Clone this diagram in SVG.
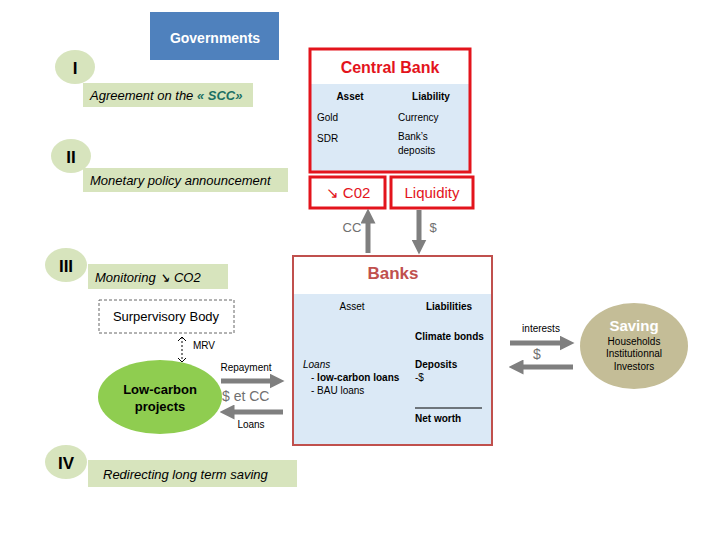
<svg xmlns="http://www.w3.org/2000/svg" width="720" height="540" viewBox="0 0 720 540">
<style>
text{font-family:"Liberation Sans",Arial,sans-serif;fill:#000}
.step{fill:#d7e4bd}
.num{font-size:17px;font-weight:bold;text-anchor:middle}
.lbl{font-size:13px;font-style:italic}
.red{fill:#e3141c}
.cbfr{fill:none;stroke:#e3141c;stroke-width:3}
.sm{font-size:10px}
.b{font-weight:bold}
.mid{text-anchor:middle}
.gl{stroke:#7f7f7f;stroke-width:5;fill:none}
.gt{fill:#707070}
</style>
<defs>
<marker id="ah" markerWidth="3" markerHeight="3" refX="1.5" refY="1.5" orient="auto" markerUnits="strokeWidth">
<path d="M0,0 L3,1.5 L0,3 z" fill="#7f7f7f"/>
</marker>
<marker id="ms" markerWidth="8" markerHeight="10" refX="5" refY="4" orient="auto-start-reverse" markerUnits="userSpaceOnUse">
<path d="M1,0 L5,4 L1,8" fill="none" stroke="#000" stroke-width="1"/>
</marker>
</defs>

<g id="governments">
<rect x="150" y="12" width="129" height="48" fill="#4f81bd"/>
<text x="215" y="43" class="mid b" font-size="14" style="fill:#fff">Governments</text>
</g>

<g id="step1">
<ellipse cx="75" cy="67" rx="20" ry="17" class="step"/>
<text x="75" y="74" class="num">I</text>
<rect x="83" y="83" width="170" height="24" class="step"/>
<text x="90" y="100" class="lbl">Agreement on the <tspan style="fill:#1b6f63;font-weight:bold">« SCC»</tspan></text>
</g>

<g id="step2">
<ellipse cx="71" cy="156" rx="20" ry="17" class="step"/>
<text x="71" y="163" class="num">II</text>
<rect x="83" y="168" width="205" height="24" class="step"/>
<text x="90" y="185" class="lbl">Monetary policy announcement</text>
</g>

<g id="step3">
<ellipse cx="66" cy="265" rx="21" ry="17" class="step"/>
<text x="66" y="272" class="num">III</text>
<rect x="88" y="264" width="140" height="25" class="step"/>
<text x="95" y="282" class="lbl">Monitoring ↘ CO2</text>
</g>

<g id="step4">
<ellipse cx="66" cy="462" rx="21" ry="17" class="step"/>
<text x="66" y="469" class="num">IV</text>
<rect x="88" y="460" width="209" height="27" class="step"/>
<text x="103" y="479" class="lbl">Redirecting long term saving</text>
</g>

<g id="central-bank">
<rect x="310" y="49" width="160" height="123" fill="#fff"/>
<rect x="311" y="84" width="158" height="87" fill="#dbe9f6"/>
<rect x="310" y="49" width="160" height="123" class="cbfr"/>
<text x="390" y="73" class="mid b red" font-size="16">Central Bank</text>
<text x="350" y="100" class="mid b sm">Asset</text>
<text x="431" y="100" class="mid b sm">Liability</text>
<text x="317" y="121" class="sm">Gold</text>
<text x="398" y="121" class="sm">Currency</text>
<text x="317" y="142" class="sm">SDR</text>
<text x="398" y="140" class="sm">Bank’s</text>
<text x="398" y="154" class="sm">deposits</text>
</g>

<g id="co2-box">
<rect x="310" y="177" width="75" height="31" fill="#fff" class="cbfr"/>
<text x="348" y="198" class="mid red" font-size="15">↘ C02</text>
</g>

<g id="liquidity-box">
<rect x="391" y="177" width="82" height="31" fill="#fff" class="cbfr"/>
<text x="432" y="198" class="mid red" font-size="15">Liquidity</text>
</g>

<g id="banks">
<rect x="293" y="256" width="199" height="189" fill="#fff"/>
<rect x="294" y="294" width="197" height="150" fill="#dbe9f6"/>
<rect x="293" y="256" width="199" height="189" fill="none" stroke="#c0504d" stroke-width="2"/>
<text x="393" y="279" class="mid b" font-size="17" style="fill:#c0504d">Banks</text>
<text x="352" y="310" class="mid sm">Asset</text>
<text x="449" y="310" class="mid b sm">Liabilities</text>
<text x="415" y="340" class="b sm">Climate bonds</text>
<text x="303" y="368" class="sm" font-style="italic">Loans</text>
<text x="311" y="381" class="sm"><tspan>- </tspan><tspan class="b">low-carbon loans</tspan></text>
<text x="311" y="394" class="sm">- BAU loans</text>
<text x="415" y="368" class="b sm">Deposits</text>
<text x="415" y="381" class="sm">-$</text>
<line x1="415" y1="408" x2="482" y2="408" stroke="#000" stroke-width="1"/>
<text x="415" y="422" class="b sm">Net worth</text>
</g>

<g id="saving">
<ellipse cx="634" cy="346" rx="54" ry="43" fill="#c4bd97"/>
<text x="634" y="331" class="mid b" font-size="15" style="fill:#fff">Saving</text>
<text x="634" y="345" class="mid sm">Households</text>
<text x="634" y="357" class="mid sm">Institutionnal</text>
<text x="634" y="370" class="mid sm">Investors</text>
</g>

<g id="supervisory-body">
<rect x="99" y="300" width="135" height="33" fill="#fff" stroke="#666" stroke-width="1" stroke-dasharray="3,2"/>
<text x="166" y="321" class="mid" font-size="13">Surpervisory Body</text>
</g>

<g id="low-carbon-projects">
<ellipse cx="160" cy="397" rx="62" ry="37" fill="#8fcd50"/>
<text x="160" y="394" class="mid b" font-size="13">Low-carbon</text>
<text x="160" y="411" class="mid b" font-size="13">projects</text>
</g>

<g id="connectors">
<line x1="368" y1="253" x2="368" y2="216" class="gl" marker-end="url(#ah)"/>
<text x="352" y="232" class="mid gt" font-size="13">CC</text>
<line x1="419" y1="210" x2="419" y2="247" class="gl" marker-end="url(#ah)"/>
<text x="433" y="232" class="mid gt" font-size="13">$</text>

<line x1="182" y1="337" x2="182" y2="362" stroke="#000" stroke-width="1" stroke-dasharray="2,2" marker-start="url(#ms)" marker-end="url(#ms)"/>
<text x="193" y="349" class="sm">MRV</text>

<line x1="221" y1="381" x2="277" y2="381" class="gl" marker-end="url(#ah)"/>
<text x="246" y="371" class="mid sm">Repayment</text>
<text x="222" y="401" class="gt" font-size="14">$ et CC</text>
<line x1="283" y1="412" x2="227" y2="412" class="gl" marker-end="url(#ah)"/>
<text x="251" y="428" class="mid sm">Loans</text>

<line x1="510" y1="343" x2="567" y2="343" class="gl" marker-end="url(#ah)"/>
<text x="541" y="332" class="mid sm">interests</text>
<text x="537" y="359" class="mid gt" font-size="14">$</text>
<line x1="573" y1="367" x2="516" y2="367" class="gl" marker-end="url(#ah)"/>
</g>
</svg>
